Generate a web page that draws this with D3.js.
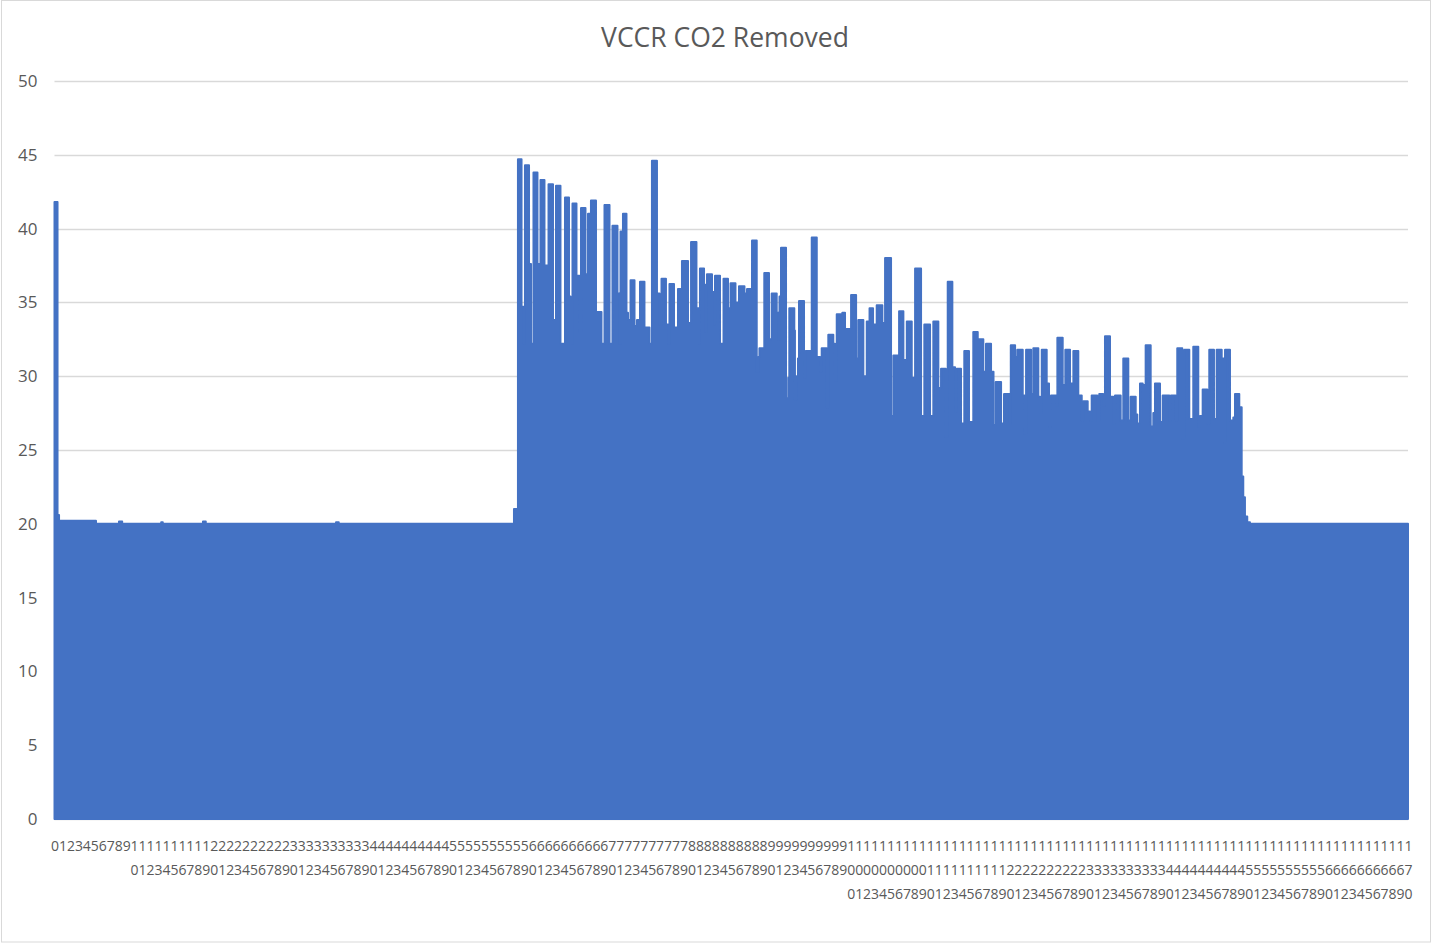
<!DOCTYPE html>
<html>
<head>
<meta charset="utf-8">
<script src="https://cdn.jsdelivr.net/npm/d3@7/dist/d3.min.js"></script>
<style>
  body { margin: 0; background: #fff; }
  svg { display: block; }
</style>
</head>
<body>
<svg id="chart" width="1432" height="944"></svg>
<script>
// ---- data -------------------------------------------------------------
const chartTitle = "VCCR CO2 Removed";

// y-axis tick values
const yTicks = [0, 5, 10, 15, 20, 25, 30, 35, 40, 45, 50];

// category labels along the x axis (0 ... 170)
const xLabels = d3.range(0, 171);

// time of each reading, in x-axis units (a reading holds until the next one)
const readingTime = [
  0, 0.38, 0.57, 5.21, 8.1, 8.5, 13.4, 13.6, 18.65, 19.0, 35.36, 35.7,
  57.71, 58.21, 58.66, 58.91, 59.09, 59.60, 59.85, 60.16, 60.66, 61.04,
  61.54, 62.05, 62.61, 62.99, 63.55, 64.12, 64.62, 64.81, 65.06, 65.56,
  65.94, 66.13, 66.69, 67.01, 67.38, 68.01, 68.70, 69.08, 69.71, 70.08,
  70.71, 70.96, 71.09, 71.40, 71.84, 72.03, 72.35, 72.85, 73.16, 73.54,
  74.10, 74.73, 75.04, 75.67, 75.99, 76.24, 76.80, 77.06, 77.24, 77.81,
  78.31, 78.81, 79.57, 79.95, 80.63, 80.95, 81.07, 81.58, 81.77, 81.95,
  82.58, 82.90, 82.96, 83.59, 84.03, 84.59, 84.91, 85.53, 85.97, 86.66,
  86.98, 87.61, 88.20, 88.40, 88.54, 89.15, 89.74, 90.08, 90.71, 90.91,
  91.06, 91.25, 91.88, 92.16, 92.29, 92.92, 93.00, 93.22, 93.38, 93.51,
  94.14, 94.35, 95.11, 95.74, 96.15, 96.36, 96.99, 97.19, 97.82, 98.03,
  98.25, 98.95, 99.29, 100.05, 100.68, 100.96, 101.59, 102.02, 102.37, 102.81,
  103.27, 103.98, 104.32, 105.07, 105.36, 106.08, 106.62, 107.05, 107.67, 108.09,
  108.84, 109.25, 109.97, 110.38, 111.01, 111.35, 111.94, 112.19, 112.77, 113.11,
  113.32, 113.86, 114.27, 114.86, 115.40, 115.96, 116.66, 117.00, 117.63, 117.94,
  118.22, 118.89, 119.26, 119.93, 120.11, 120.65, 120.93, 121.61, 121.84, 122.03,
  122.66, 122.94, 123.57, 123.78, 124.00, 124.62, 124.91, 125.16, 125.79, 125.96,
  126.63, 126.96, 127.55, 127.97, 128.59, 129.02, 129.22, 129.77, 130.06, 130.27,
  130.97, 131.22, 131.72, 131.94, 132.57, 132.99, 133.20, 133.91, 134.24, 134.87,
  135.17, 135.80, 136.00, 136.34, 136.68, 137.05, 137.68, 138.01, 138.22, 138.85,
  139.19, 140.02, 140.23, 140.82, 141.02, 141.65, 141.90, 142.53, 143.03, 143.66,
  143.87, 144.21, 144.79, 145.04, 145.63, 145.97, 146.60, 146.89, 147.02, 147.64,
  148.06, 148.27, 148.81, 149.11, 149.31, 149.52, 149.81, 150.15, 170
];

// CO2 removed at each reading
const co2Removed = [
  41.8, 20.6, 20.2, 20.0, 20.15, 20.0, 20.1, 20.0, 20.15, 20.0, 20.1, 20.0,
  21.0, 44.7, 34.7, 32.2, 44.3, 37.6, 32.2, 43.8, 37.6, 43.3,
  37.5, 43.0, 33.8, 42.9, 32.2, 42.1, 35.4, 32.2, 41.7, 36.8,
  33.0, 41.4, 36.9, 41.0, 41.9, 34.35, 32.2, 41.6, 32.2, 40.2,
  35.6, 32.2, 39.8, 41.0, 34.3, 33.8, 36.5, 33.4, 33.8, 36.4,
  33.3, 32.2, 44.6, 35.6, 33.5, 36.6, 33.5, 32.2, 36.25, 33.3,
  35.9, 37.8, 33.6, 39.1, 34.6, 32.2, 37.3, 36.2, 33.0, 36.9,
  35.7, 33.5, 36.8, 32.2, 36.6, 34.6, 36.3, 35.0, 36.1, 35.6,
  35.9, 39.2, 30.3, 31.3, 31.9, 37.0, 32.5, 35.6, 34.3, 32.45,
  35.4, 38.7, 28.5, 29.9, 34.6, 33.1, 28.4, 30.0, 31.2, 35.1,
  29.9, 31.7, 39.4, 31.3, 30.3, 31.9, 27.9, 32.8, 32.2, 29.7,
  34.2, 34.3, 33.2, 35.5, 31.2, 33.8, 30.0, 33.7, 34.6, 33.5,
  34.8, 33.6, 38.0, 27.3, 31.4, 34.4, 31.1, 33.7, 29.9, 37.3,
  27.3, 33.5, 27.3, 33.7, 29.2, 30.5, 25.9, 36.4, 30.6, 27.6,
  30.5, 26.8, 31.7, 26.9, 33.0, 32.5, 30.3, 32.2, 30.3, 26.7,
  29.6, 26.8, 28.8, 26.8, 32.1, 31.3, 31.8, 28.7, 26.1, 31.8,
  28.8, 31.9, 28.6, 27.5, 31.8, 29.5, 26.6, 28.7, 28.0, 32.6,
  29.4, 31.8, 29.5, 31.7, 28.7, 27.0, 28.3, 27.6, 27.0, 28.7,
  27.0, 28.8, 28.0, 32.7, 28.6, 26.8, 28.7, 27.0, 31.2, 27.0,
  28.6, 27.4, 26.8, 29.5, 29.4, 32.1, 26.6, 27.5, 29.5, 26.9,
  28.7, 27.0, 28.7, 27.0, 31.9, 25.8, 31.8, 27.1, 32.0, 26.6,
  27.3, 29.1, 26.8, 31.8, 27.1, 31.8, 31.2, 25.5, 31.8, 27.0,
  27.2, 28.8, 27.9, 23.2, 21.8, 20.5, 20.1, 20.0, 20.0
];

const readings = readingTime.map((t, i) => ({ t, v: co2Removed[i] }));

// ---- layout -----------------------------------------------------------
const W = 1432, H = 944;
const plot = { left: 54.5, right: 1408, top: 81, bottom: 819 };
const textColor = "#595959";
const gridColor = "#d9d9d9";
const barColor = "#4472C4";

const svg = d3.select("#chart");

// chart-area border
svg.append("rect")
  .attr("x", 1.5).attr("y", 0.5)
  .attr("width", W - 3).attr("height", H - 2.5)
  .attr("fill", "#fff")
  .attr("stroke", gridColor)
  .attr("stroke-width", 1);

const x = d3.scaleLinear().domain([0, 170]).range([plot.left, plot.right]);
const y = d3.scaleLinear().domain([0, 50]).range([plot.bottom, plot.top]);

// title
svg.append("text")
  .attr("x", 725).attr("y", 47)
  .attr("text-anchor", "middle")
  .attr("font-family", "'Open Sans', sans-serif")
  .attr("font-size", 26.5)
  .attr("fill", textColor)
  .text(chartTitle);

// horizontal gridlines
svg.append("g")
  .selectAll("line")
  .data(yTicks)
  .join("line")
  .attr("x1", plot.left).attr("x2", plot.right)
  .attr("y1", d => Math.round(y(d)) + 0.5)
  .attr("y2", d => Math.round(y(d)) + 0.5)
  .attr("stroke", gridColor)
  .attr("stroke-width", 1.5);

// y axis labels
const yAxis = svg.append("g")
  .attr("transform", `translate(${plot.left},0)`)
  .call(d3.axisLeft(y).tickValues(yTicks).tickSize(0).tickPadding(17));
yAxis.select(".domain").remove();
yAxis.selectAll("text")
  .attr("font-family", "'Open Sans', sans-serif")
  .attr("font-size", 17)
  .attr("fill", textColor);

// the series
const area = d3.area()
  .x(d => x(d.t))
  .y0(y(0))
  .y1(d => y(d.v))
  .curve(d3.curveStepAfter);

svg.append("path")
  .datum(readings)
  .attr("d", area)
  .attr("fill", barColor)
  .attr("stroke", barColor)
  .attr("stroke-width", 2)
  .attr("stroke-linejoin", "round");

// x axis: each label wraps one character per line
const xAxis = svg.append("g")
  .attr("transform", `translate(0,${plot.bottom})`)
  .call(d3.axisBottom(x).tickValues(xLabels).tickSize(0).tickFormat(""));
xAxis.select(".domain").remove();
xAxis.selectAll(".tick text")
  .attr("font-family", "'Open Sans', sans-serif")
  .attr("font-size", 14)
  .attr("fill", textColor)
  .attr("y", 0)
  .attr("dy", null)
  .each(function (d) {
    const chars = String(d).split("");
    const t = d3.select(this);
    chars.forEach((c, i) => {
      t.append("tspan")
        .attr("x", 0)
        .attr("y", 32 + i * 24)
        .text(c);
    });
  });
</script>
</body>
</html>
